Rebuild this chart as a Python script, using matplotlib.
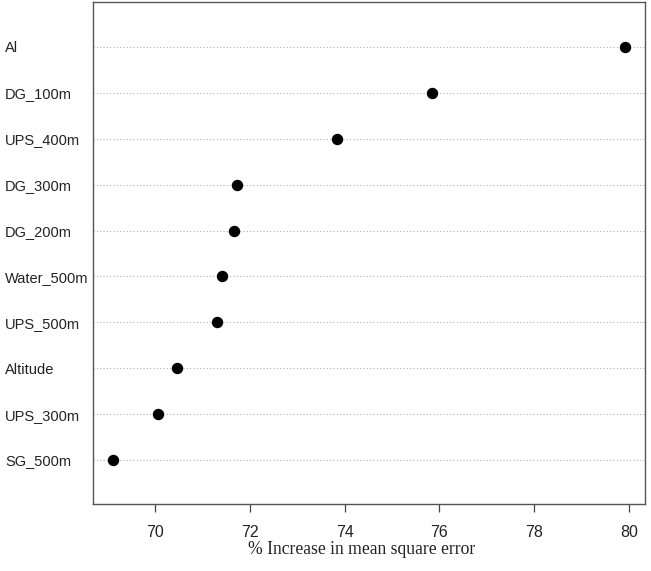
import matplotlib
matplotlib.use("Agg")
import matplotlib.pyplot as plt

# variable importance (top row first)
variables = ["Al", "DG_100m", "UPS_400m", "DG_300m", "DG_200m",
             "Water_500m", "UPS_500m", "Altitude", "UPS_300m", "SG_500m"]
inc_mse = [79.92, 75.84, 73.84, 71.73, 71.66, 71.41, 71.30, 70.46, 70.06, 69.11]
x_ticks = [70, 72, 74, 76, 78, 80]

fig = plt.figure(figsize=(6.51, 5.71), dpi=100)
ax = fig.add_axes([93 / 651, 1 - 504 / 571, (645 - 93) / 651, (504 - 2) / 571])

n = len(variables)
ypos = list(range(n, 0, -1))

for y in ypos:
    ax.axhline(y, color="#b0b0b0", linestyle=(0, (1, 2)), linewidth=0.8, zorder=1)
ax.plot(inc_mse, ypos, "o", color="black", markersize=7.2, zorder=3)

ax.set_xlim(68.685, 80.34)
ax.set_ylim(0.04, 10.98)

ax.set_xticks(x_ticks)
ax.set_xticklabels([str(t) for t in x_ticks], fontfamily="Liberation Sans", fontsize=11.5,
                   color="#222222")
ax.tick_params(axis="x", length=6, width=0.9, color="#444444", pad=9)

ax.set_yticks(ypos)
ax.set_yticklabels(variables, fontfamily="Liberation Sans", fontsize=10.5, ha="left",
                   color="#222222")
ax.tick_params(axis="y", length=0, pad=88 * 72 / 100)

for s in ax.spines.values():
    s.set_color("#555555")
    s.set_linewidth(1.0)

ax.set_xlabel("% Increase in mean square error", fontfamily="Liberation Serif",
              fontsize=12.7, color="#222222", va="center")
ax.xaxis.set_label_coords(0.486, -0.0916)

fig.savefig("out.png", dpi=100)
